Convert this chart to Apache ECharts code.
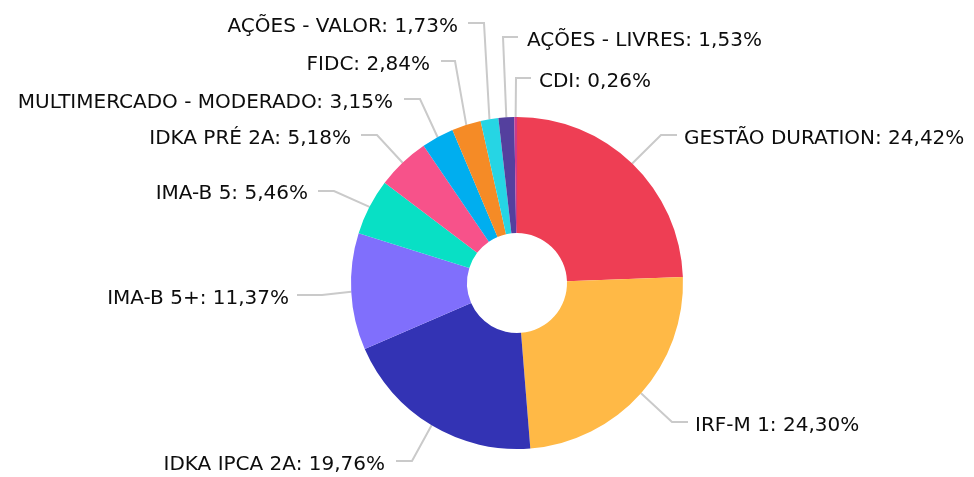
<!DOCTYPE html>
<html>
<head>
<meta charset="UTF-8">
<script src="https://cdn.jsdelivr.net/npm/echarts@6/dist/echarts.min.js"></script>
<style>
  html, body { margin: 0; padding: 0; background: #fff; }
  #chart { width: 974px; height: 477px; }
</style>
</head>
<body>
<div id="chart"></div>
<script>
var categories = ['GESTÃO DURATION', 'IRF-M 1', 'IDKA IPCA 2A', 'IMA-B 5+', 'IMA-B 5', 'IDKA PRÉ 2A',
  'MULTIMERCADO - MODERADO', 'FIDC', 'AÇÕES - VALOR', 'AÇÕES - LIVRES', 'CDI'];
var values = [24.42, 24.30, 19.76, 11.37, 5.46, 5.18, 3.15, 2.84, 1.73, 1.53, 0.26];
var colors = ['#EE3E54', '#FFB946', '#3333B4', '#806FFC', '#08E0C5', '#F7528A',
  '#00AEEF', '#F58B26', '#26D5E4', '#54409E', '#CB3A8C'];

// label placement: [textX, textY, align, bendX, bendY, endX]
var labelSpots = [
  [684, 139, 'left', 661, 135, 677],
  [695, 426, 'left', 672, 422, 688],
  [385, 465, 'right', 412, 461, 396],
  [289, 299, 'right', 322, 295, 297],
  [308, 194, 'right', 334, 191, 318],
  [351, 139, 'right', 377, 135, 361],
  [393, 103, 'right', 420, 99, 404],
  [430, 65, 'right', 455, 61, 441],
  [458, 27, 'right', 484, 23, 468],
  [527, 41, 'left', 503, 37, 518],
  [539, 82, 'left', 516, 78, 531]
];

var chart = echarts.init(document.getElementById('chart'));
var pieData = categories.map(function (name, i) {
  return { name: name, value: values[i], itemStyle: { color: colors[i] } };
});

chart.setOption({
  animation: false,
  series: [{
    type: 'pie',
    center: [517, 283],
    radius: [50, 166],
    startAngle: 90,
    avoidLabelOverlap: false,
    data: pieData,
    label: {
      fontFamily: 'DejaVu Sans',
      fontSize: 20,
      color: '#0d0d0d',
      formatter: function (p) {
        return p.name + ': ' + p.value.toFixed(2).replace('.', ',') + '%';
      }
    },
    labelLine: {
      length: 30,
      length2: 16,
      lineStyle: { color: '#cacaca', width: 2 }
    },
    labelLayout: function (p) {
      var s = labelSpots[p.dataIndex];
      var start = p.labelLinePoints[0];
      return {
        x: s[0],
        y: s[1],
        align: s[2],
        verticalAlign: 'middle',
        hideOverlap: false,
        moveOverlap: null,
        labelLinePoints: [start, [s[3], s[4]], [s[5], s[4]]]
      };
    }
  }]
});
</script>
</body>
</html>
